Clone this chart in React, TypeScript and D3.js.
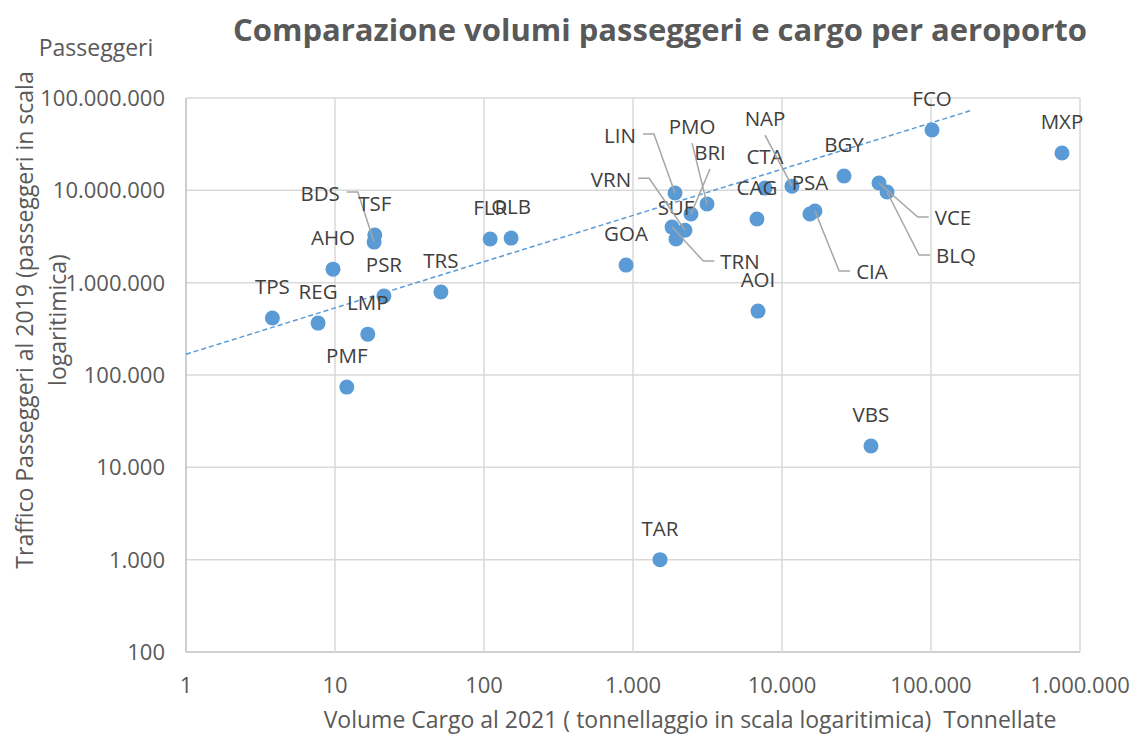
import React, { useEffect, useRef } from "react";
import * as d3 from "d3";

// airport codes, cargo 2021 (t) and passengers 2019
const airports = ["TPS", "REG", "AHO", "BDS", "TSF", "PSR", "LMP", "PMF", "TRS", "FLR", "OLB", "GOA", "TAR", "TRN", "LIN", "SUF", "VRN", "BRI", "PMO", "CAG", "AOI", "CTA", "NAP", "PSA", "CIA", "BGY", "VBS", "VCE", "BLQ", "FCO", "MXP"];
const cargo = [3.8, 7.7, 9.7, 18.3, 18.5, 21.3, 16.6, 12, 51.4, 110, 152, 898, 1518, 1828, 1914, 1944, 2234, 2450, 3140, 6790, 6900, 7690, 11670, 15400, 16640, 26070, 39550, 44770, 50700, 101600, 757000];
const passengers = [414000, 365000, 1400000, 2750000, 3280000, 716000, 277000, 74000, 791000, 2970000, 3040000, 1550000, 1000, 4000000, 9350000, 2970000, 3700000, 5540000, 7100000, 4890000, 492000, 10600000, 11100000, 5540000, 5970000, 14300000, 17000, 12000000, 9600000, 45000000, 25400000];

const xTicks = [1, 10, 100, 1000, 10000, 100000, 1000000];
const yTicks = [100, 1000, 10000, 100000, 1000000, 10000000, 100000000];

// power trendline y = a * x^b (as shown in the chart)
const trendA = 168000;
const trendB = 0.501;
const trendRange = [1, 190000];

// labels moved away from their point, with leader line (dx, dy of label centre from point)
const leaders: { [k: string]: { dx: number; dy: number; side: string } } = {
  LIN: { dx: -55, dy: -57, side: "left" },
  VRN: { dx: -74, dy: -50, side: "left" },
  BDS: { dx: -54, dy: -48, side: "left" },
  TRN: { dx: 68, dy: 35, side: "right" },
  CIA: { dx: 57, dy: 61, side: "right" },
  VCE: { dx: 74, dy: 35, side: "right" },
  BLQ: { dx: 69, dy: 64, side: "right" },
  PMO: { dx: -15, dy: -77, side: "top" },
  BRI: { dx: 19, dy: -61, side: "top" },
  NAP: { dx: -27, dy: -67, side: "top" },
};

const fmt = (v: number) => d3.format(",")(v).replace(/,/g, ".");

export default function App() {
  const ref = useRef<SVGSVGElement>(null);

  useEffect(() => {
    document.body.style.margin = "0";
    const width = 1130, height = 736;
    const left = 186, right = 1080, top = 98, bottom = 652;
    const font = "'Open Sans', sans-serif";

    const svg = d3.select(ref.current);
    svg.selectAll("*").remove();

    const x = d3.scaleLog().domain([1, 1000000]).range([left, right]);
    const y = d3.scaleLog().domain([100, 100000000]).range([bottom, top]);

    // grid
    svg.append("g")
      .selectAll("line")
      .data(yTicks)
      .enter()
      .append("line")
      .attr("x1", left).attr("x2", right)
      .attr("y1", (d) => y(d)).attr("y2", (d) => y(d))
      .attr("stroke", (d) => (d === 100 ? "#BFBFBF" : "#D9D9D9"))
      .attr("stroke-width", 1.5);
    svg.append("g")
      .selectAll("line")
      .data(xTicks)
      .enter()
      .append("line")
      .attr("y1", top).attr("y2", bottom)
      .attr("x1", (d) => x(d)).attr("x2", (d) => x(d))
      .attr("stroke", (d) => (d === 1 ? "#BFBFBF" : "#D9D9D9"))
      .attr("stroke-width", 1.5);

    // tick labels
    svg.append("g")
      .selectAll("text")
      .data(yTicks)
      .enter()
      .append("text")
      .attr("x", 165)
      .attr("y", (d) => y(d) + 8)
      .attr("text-anchor", "end")
      .style("font-family", font)
      .style("font-size", "22px")
      .attr("fill", "#595959")
      .text(fmt);
    svg.append("g")
      .selectAll("text")
      .data(xTicks)
      .enter()
      .append("text")
      .attr("x", (d) => x(d))
      .attr("y", 693)
      .attr("text-anchor", "middle")
      .style("font-family", font)
      .style("font-size", "22px")
      .attr("fill", "#595959")
      .text(fmt);

    // trendline
    const trend = d3.line<number>()
      .x((d) => x(d))
      .y((d) => y(trendA * Math.pow(d, trendB)));
    svg.append("path")
      .datum(trendRange)
      .attr("d", trend)
      .attr("fill", "none")
      .attr("stroke", "#5B9BD5")
      .attr("stroke-width", 1.5)
      .attr("stroke-dasharray", "5,3");

    // points
    const idx = d3.range(airports.length);
    svg.append("g")
      .selectAll("circle")
      .data(idx)
      .enter()
      .append("circle")
      .attr("cx", (i) => x(cargo[i]))
      .attr("cy", (i) => y(passengers[i]))
      .attr("r", 7.5)
      .attr("fill", "#5B9BD5");

    // labels
    const labels = svg.append("g");
    idx.forEach((i) => {
      const px = x(cargo[i]), py = y(passengers[i]);
      const code = airports[i];
      const l = leaders[code];
      const lx = l ? px + l.dx : px;
      const ly = l ? py + l.dy : py - 31;
      const t = labels.append("text")
        .attr("x", lx)
        .attr("y", ly + 7)
        .attr("text-anchor", "middle")
        .style("font-family", font)
        .style("font-size", "20.5px")
        .attr("fill", "#404040")
        .text(code);
      if (l) {
        const w = (t.node() as SVGTextElement).getComputedTextLength();
        let pts: number[][];
        if (l.side === "left") {
          const sx = lx + w / 2 + 7;
          pts = [[sx, ly - 2], [sx + 11, ly - 2], [px, py]];
        } else if (l.side === "right") {
          const sx = lx - w / 2 - 6;
          pts = [[sx, ly - 1], [sx - 11, ly - 1], [px, py]];
        } else {
          pts = [[lx, ly + 16], [px, py]];
        }
        labels.append("path")
          .attr("d", d3.line()(pts as [number, number][]))
          .attr("fill", "none")
          .attr("stroke", "#A6A6A6")
          .attr("stroke-width", 1.5);
      }
    });

    // titles
    svg.append("text")
      .attr("x", 660)
      .attr("y", 41)
      .attr("text-anchor", "middle")
      .style("font-family", font)
      .style("font-size", "31px")
      .style("font-weight", "bold")
      .attr("fill", "#595959")
      .text("Comparazione volumi passeggeri e cargo per aeroporto");

    svg.append("text")
      .attr("x", 96)
      .attr("y", 56)
      .attr("text-anchor", "middle")
      .style("font-family", font)
      .style("font-size", "23px")
      .attr("fill", "#595959")
      .text("Passeggeri");

    svg.append("text")
      .attr("x", 690)
      .attr("y", 728)
      .attr("text-anchor", "middle")
      .style("font-family", font)
      .style("font-size", "23px")
      .style("white-space", "pre")
      .attr("fill", "#595959")
      .text("Volume Cargo al 2021 ( tonnellaggio in scala logaritimica)  Tonnellate");

    const yTitle = svg.append("text")
      .attr("transform", "translate(0,320) rotate(-90)")
      .attr("text-anchor", "middle")
      .style("font-family", font)
      .style("font-size", "23px")
      .attr("fill", "#595959");
    yTitle.append("tspan").attr("x", 0).attr("y", 33)
      .text("Traffico Passeggeri al 2019 (passeggeri in scala");
    yTitle.append("tspan").attr("x", 0).attr("y", 66)
      .text("logaritimica)");

    svg.attr("width", width).attr("height", height);
  }, []);

  return (
    <div>
      <svg ref={ref} width={1130} height={736} style={{ display: "block", background: "#fff" }}></svg>
    </div>
  );
}
